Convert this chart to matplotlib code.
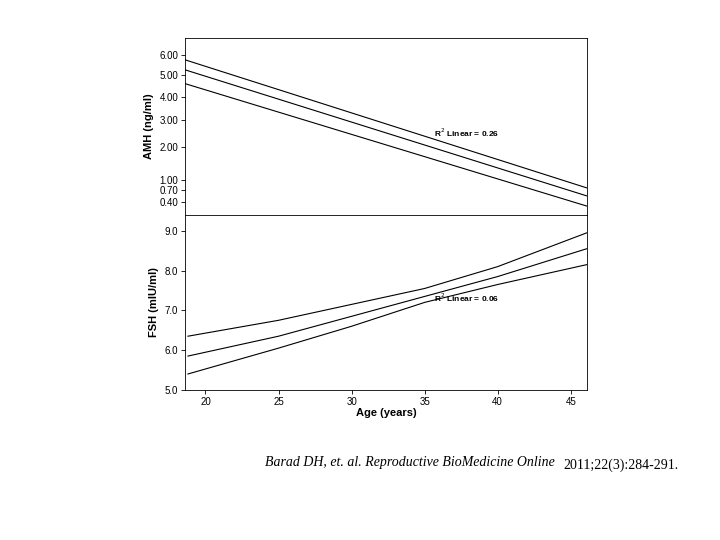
import numpy as np
import matplotlib
matplotlib.use("Agg")
from matplotlib import pyplot as plt

# AMH axis tick values (non-linear axis in the original)
amh_ticks = [0.40, 0.70, 1.00, 2.00, 3.00, 4.00, 5.00, 6.00]
amh_tick_labels = ['0.40', '0.70', '1.00', '2.00', '3.00', '4.00', '5.00', '6.00']
# scale knots: value -> relative height
amh_knot_vals = [0.15, 0.40, 0.70, 1.00, 2.00, 3.00, 4.00, 5.00, 6.00, 6.8]
amh_knot_pos = [0, 13, 25, 35, 68, 95, 118, 140, 160, 177]

age_ends = [18.6, 46.1]
amh_upper = [5.75, 0.76]
amh_mid = [5.25, 0.55]
amh_lower = [4.6, 0.32]

fsh_age = [18.8, 25, 30, 35, 40, 46.1]
fsh_upper = [6.35, 6.75, 7.15, 7.55, 8.1, 8.95]
fsh_mid = [5.85, 6.35, 6.85, 7.35, 7.85, 8.55]
fsh_lower = [5.4, 6.05, 6.6, 7.2, 7.65, 8.15]

fsh_ticks = [5.0, 6.0, 7.0, 8.0, 9.0]
age_ticks = [20, 25, 30, 35, 40, 45]

def fwd(v):
    return np.interp(v, amh_knot_vals, amh_knot_pos)

def inv(p):
    return np.interp(p, amh_knot_pos, amh_knot_vals)

plt.rcParams['font.family'] = ['Liberation Sans', 'DejaVu Sans']
fig = plt.figure(figsize=(7.2, 5.4), dpi=100)

ax1 = fig.add_axes([0.257, 0.602, 0.558, 0.328])
ax2 = fig.add_axes([0.257, 0.278, 0.558, 0.324])

ax1.set_yscale('function', functions=(fwd, inv))
for ys in (amh_upper, amh_mid, amh_lower):
    ax1.plot(age_ends, ys, color='black', lw=0.8)
ax1.set_xlim(age_ends)
ax1.set_ylim(0.15, 6.8)
ax1.set_yticks(amh_ticks)
ax1.set_yticklabels(amh_tick_labels)
ax1.minorticks_off()
ax1.set_xticks([])
ax1.set_ylabel('AMH (ng/ml)', fontsize=8, fontweight='bold')
ax1.text(0.62, 0.44, 'R$^2$ Linear = 0.26', transform=ax1.transAxes, fontsize=6, fontweight='bold')

for ys in (fsh_upper, fsh_mid, fsh_lower):
    ax2.plot(fsh_age, ys, color='black', lw=0.8)
ax2.set_xlim(age_ends)
ax2.set_ylim(5.0, 9.4)
ax2.set_yticks(fsh_ticks)
ax2.set_yticklabels(['5.0', '6.0', '7.0', '8.0', '9.0'])
ax2.set_xticks(age_ticks)
ax2.set_xlabel('Age (years)', fontsize=8, fontweight='bold', labelpad=1)
ax2.set_ylabel('FSH (mIU/ml)', fontsize=8, fontweight='bold')
ax2.text(0.62, 0.5, 'R$^2$ Linear = 0.06', transform=ax2.transAxes, fontsize=6, fontweight='bold')

for ax in (ax1, ax2):
    ax.tick_params(labelsize=7, length=3, width=0.6, pad=2)
    for s in ax.spines.values():
        s.set_linewidth(0.6)

t1 = fig.text(0.368, 0.137, 'Barad DH, et. al. Reproductive BioMedicine Online', fontsize=10,
              family='Liberation Serif', style='italic')
ax2.annotate('2011;22(3):284-291.', xy=(1, 0), xycoords=t1, xytext=(6, 0),
             textcoords='offset points', fontsize=10, family='Liberation Serif',
             annotation_clip=False)

fig.savefig('out.png', dpi=100)
